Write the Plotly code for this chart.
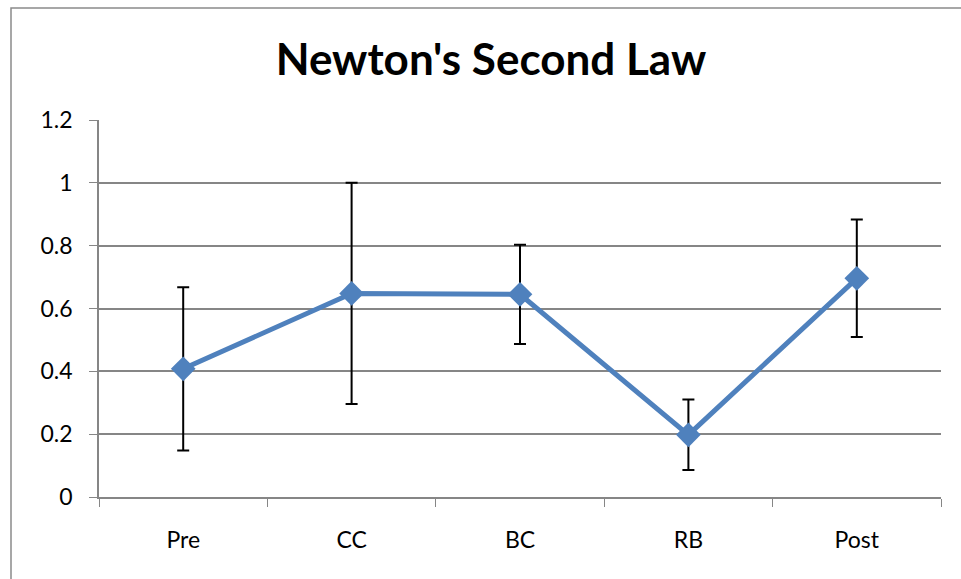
import plotly.graph_objects as go

categories = ["Pre", "CC", "BC", "RB", "Post"]
means = [0.408, 0.648, 0.645, 0.198, 0.696]
errors = [0.26, 0.352, 0.158, 0.112, 0.187]
y_ticks = [0, 0.2, 0.4, 0.6, 0.8, 1, 1.2]
y_tick_labels = ["0", "0.2", "0.4", "0.6", "0.8", "1", "1.2"]

FONT = "Lato, Carlito, Calibri, sans-serif"
GRID = "#868686"

W, H = 961, 579
L, R, T, B = 99, 20, 120, 82
PW, PH = W - L - R, H - T - B

fig = go.Figure()
fig.add_trace(go.Scatter(
    x=categories, y=means, mode="lines+markers",
    line=dict(color="#4F81BD", width=5),
    marker=dict(symbol="diamond", size=19, color="#4F81BD"),
    error_y=dict(type="data", array=errors, visible=True,
                 color="black", thickness=2, width=6),
    showlegend=False,
))

fig.update_layout(
    width=W, height=H,
    margin=dict(l=L, r=R, t=T, b=B),
    paper_bgcolor="white", plot_bgcolor="white",
    font=dict(family=FONT, size=23, color="black"),
    title=dict(text="<b>Newton's Second Law</b>", x=(491 - L) / PW, xref="paper", xanchor="center",
               y=1 - 60 / H, yref="container", yanchor="middle",
               font=dict(family=FONT, size=44, color="black")),
    xaxis=dict(range=[-0.5, 4.5], tickson="boundaries", ticks="outside", ticklen=8,
               tickcolor=GRID, showline=True, linecolor=GRID, linewidth=1.5,
               showgrid=False, ticklabelstandoff=22, zeroline=False),
    yaxis=dict(range=[0, 1.2], tickvals=y_ticks, ticktext=y_tick_labels, ticks="outside",
               ticklen=8, tickcolor=GRID, showline=True, linecolor=GRID, linewidth=1.5,
               showgrid=True, gridcolor=GRID, gridwidth=1.5, zeroline=False,
               ticklabelstandoff=12),
    shapes=[dict(type="rect", xref="paper", yref="paper",
                 x0=(11 - L) / PW, x1=1.2, y0=-0.4, y1=(PH + T - 8) / PH,
                 line=dict(color="#8a8a8a", width=1.5), fillcolor="rgba(0,0,0,0)", layer="below")],
)

fig.write_html(
    "out.html",
    config={"displayModeBar": False},
    post_script="document.documentElement.style.overflow='hidden';"
                "document.body.style.margin='0';document.body.style.overflow='hidden';",
)
